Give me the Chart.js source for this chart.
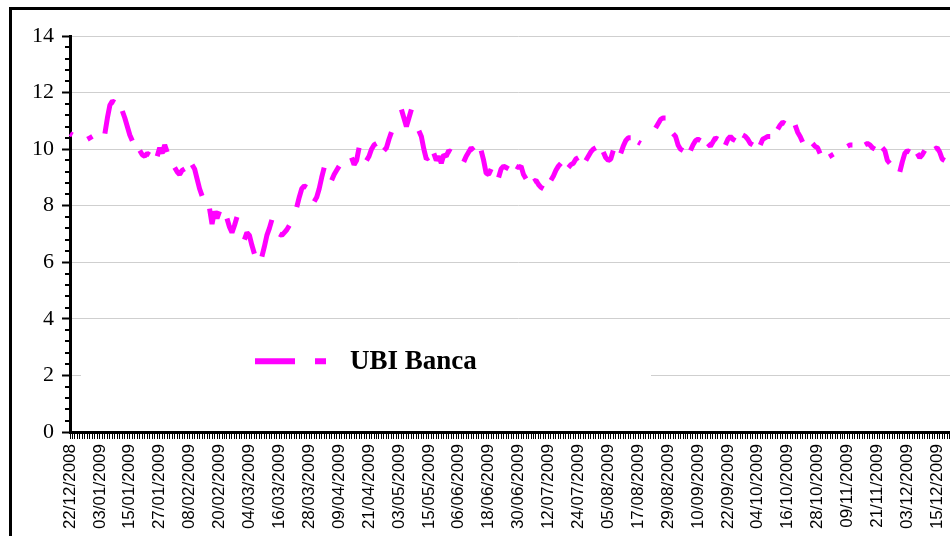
<!DOCTYPE html>
<html>
<head>
<meta charset="utf-8">
<script src="https://cdn.jsdelivr.net/npm/chart.js@4.4.1/dist/chart.umd.min.js"></script>
<style>
    html, body { margin: 0; padding: 0; background: #fff; overflow: hidden; }
    #wrap { width: 990px; height: 536px; }
</style>
</head>
<body>
<div id="wrap"><canvas id="ubi-chart" width="990" height="536"></canvas></div>
<script>
// Daily closes, one row per 7 categories (null = market closed / no line drawn)
const ubiBanca = [
    10.55, 10.5, null, null, null, null, null,
    10.35, 10.4, 10.45, null, null, null, null,
    10.55, 11.1, 11.55, 11.7, 11.65, null, null,
    11.35, 11.1, 10.8, 10.5, 10.3, null, null,
    9.95, 9.8, 9.75, 9.85, 9.8, null, null,
    9.75, 10.05, 9.85, 10.15, 9.9, null, null,
    9.35, 9.2, 9.1, 9.25, 9.3, null, null,
    9.45, 9.3, 8.95, 8.6, 8.35, null, null,
    7.9, 7.35, 7.8, 7.55, 7.8, null, null,
    7.55, 7.25, 7.05, 7.3, 7.6, null, null,
    6.8, 7.05, 6.95, 6.6, 6.3, null, null,
    6.2, 6.55, 6.95, 7.2, 7.5, null, null,
    7.0, 6.95, 7.05, 7.15, 7.3, null, null,
    7.95, 8.3, 8.6, 8.7, 8.65, null, null,
    8.15, 8.3, 8.6, 9.0, 9.35, null, null,
    8.9, 9.1, 9.25, 9.4, null, null, null,
    null, 9.7, 9.45, 9.6, 10.05, null, null,
    9.6, 9.75, 10.0, 10.15, 10.2, null, null,
    9.95, 10.05, 10.35, 10.6, null, null, null,
    11.4, 11.1, 10.8, 11.1, 11.4, null, null,
    10.65, 10.45, 10.0, 9.65, 9.7, null, 9.85,
    9.6, 9.75, 9.5, 9.8, 9.75, 9.95, 9.9,
    null, null, null, null, 9.55, 9.75, 9.9,
    10.05, 9.95, null, null, 9.95, 9.6, 9.15,
    9.1, 9.3, null, null, 9.0, 9.3, 9.4,
    9.35, 9.3, null, null, 9.4, 9.35, 9.4,
    9.1, 8.95, null, null, 8.85, 8.9, 8.75,
    8.65, 8.6, null, null, 8.9, 9.05, 9.25,
    9.4, 9.5, null, null, 9.35, 9.45, 9.5,
    9.65, 9.7, null, null, 9.6, 9.75, 9.9,
    10.0, 10.05, null, null, 9.9, 9.7, 9.6,
    9.65, 9.95, null, null, 9.85, 10.1, 10.3,
    10.4, 10.4, null, null, 10.25, 10.2, null,
    null, null, null, null, 10.75, 10.9, 11.05,
    11.1, 11.1, null, null, 10.55, 10.45, 10.15,
    10.0, 9.95, null, null, 9.95, 10.15, 10.3,
    10.35, 10.3, null, null, 10.2, 10.1, 10.25,
    10.4, 10.35, null, null, 10.15, 10.35, 10.45,
    10.35, 10.3, null, null, 10.5, 10.45, 10.35,
    10.2, 10.15, null, null, 10.15, 10.35, 10.4,
    10.45, 10.45, null, null, 10.7, 10.85, 10.95,
    10.9, null, null, null, 10.85, 10.6, 10.45,
    10.25, null, null, null, 10.2, 10.1, 10.05,
    9.85, null, null, null, 9.85, 9.7, null,
    null, null, null, null, 10.1, 10.15, 10.15,
    null, null, null, null, 10.15, 10.2, 10.15,
    10.05, 10.0, null, null, 10.05, 9.95, 9.6,
    9.5, null, null, null, 9.2, 9.55, 9.85,
    9.95, 9.9, null, null, 9.85, 9.7, 9.8,
    9.95, null, null, null, 10.0, 10.05, 9.9,
    9.65, 9.6
];

// Category axis: one entry per day from 22/12/2008, the sheet skips 10 days after 15/05/2009
const firstDay = [2008, 12, 22];
const skipAfter = '15/05/2009';
const skipDays = 10;
const dayCount = 360;
const labelEvery = 12;

const yTicks = [0, 2, 4, 6, 8, 10, 12, 14];
const seriesName = 'UBI Banca';

const pad = n => String(n).padStart(2, '0');
const fmt = d => pad(d.getDate()) + '/' + pad(d.getMonth() + 1) + '/' + d.getFullYear();

const days = [];
const d = new Date(firstDay[0], firstDay[1] - 1, firstDay[2]);
for (let i = 0; i < dayCount; i++) {
    const s = fmt(d);
    days.push(s);
    if (s === skipAfter) d.setDate(d.getDate() + skipDays);
    d.setDate(d.getDate() + 1);
}

// white background + outer frame (only left/top edges are inside the picture)
const framePlugin = {
    id: 'frame',
    beforeDraw(chart) {
        const ctx = chart.ctx;
        ctx.save();
        ctx.fillStyle = '#fff';
        ctx.fillRect(0, 0, chart.width, chart.height);
        ctx.strokeStyle = '#000';
        ctx.lineWidth = 3;
        ctx.strokeRect(10.5, 8.5, 3000, 3000);
        ctx.restore();
    }
};

// legend box sitting inside the plot, lower left
const legendPlugin = {
    id: 'innerLegend',
    beforeDatasetsDraw(chart) {
        const ctx = chart.ctx;
        const area = chart.chartArea;
        const ds = chart.data.datasets[0];
        const yMid = chart.scales.y.getPixelForValue(2.5);
        ctx.save();
        ctx.fillStyle = '#fff';
        ctx.fillRect(area.left + 11, yMid - 26, 570, 56);
        ctx.strokeStyle = ds.borderColor;
        ctx.lineWidth = 6;
        ctx.setLineDash([40, 20, 11, 200]);
        ctx.beginPath();
        ctx.moveTo(area.left + 185, yMid);
        ctx.lineTo(area.left + 256, yMid);
        ctx.stroke();
        ctx.setLineDash([]);
        ctx.fillStyle = '#000';
        ctx.font = 'bold 27px "Liberation Serif", "Times New Roman", serif';
        ctx.textBaseline = 'middle';
        ctx.fillText(ds.label, area.left + 280, yMid + 1);
        ctx.restore();
    }
};

// minor ticks on the value axis
const minorTicks = {
    id: 'minorTicks',
    afterDraw(chart) {
        const y = chart.scales.y;
        const ctx = chart.ctx;
        ctx.save();
        ctx.strokeStyle = '#000';
        ctx.lineWidth = 2;
        for (let k = 0; k <= 35; k++) {
            if (k % 5 === 0) continue;
            const py = Math.round(y.getPixelForValue(k * 0.4));
            ctx.beginPath();
            ctx.moveTo(y.right - 5, py);
            ctx.lineTo(y.right + 1, py);
            ctx.stroke();
        }
        ctx.restore();
    }
};

const ctx = document.getElementById('ubi-chart').getContext('2d');
new Chart(ctx, {
    type: 'line',
    data: {
        labels: days,
        datasets: [{
            label: seriesName,
            data: ubiBanca,
            borderColor: '#ff00ff',
            backgroundColor: '#ff00ff',
            borderWidth: 5,
            borderCapStyle: 'butt',
            borderJoinStyle: 'bevel',
            pointRadius: 0,
            pointHoverRadius: 0,
            tension: 0,
            spanGaps: false
        }]
    },
    options: {
        responsive: false,
        animation: false,
        devicePixelRatio: 1,
        layout: { padding: { top: 36, left: 0, right: 0, bottom: 0 } },
        plugins: {
            legend: { display: false },
            tooltip: { enabled: false }
        },
        scales: {
            x: {
                type: 'category',
                offset: false,
                grid: {
                    display: true,
                    drawOnChartArea: false,
                    drawTicks: true,
                    tickLength: 7,
                    tickColor: '#000',
                    tickWidth: 1
                },
                border: { display: true, color: '#000', width: 3 },
                ticks: {
                    autoSkip: false,
                    maxRotation: 90,
                    minRotation: 90,
                    padding: 5,
                    color: '#000',
                    font: { family: '"Liberation Sans", Arial, sans-serif', size: 17 },
                    callback: function (value, index) {
                        return index % labelEvery === 0 ? this.getLabelForValue(value) : '';
                    }
                },
                afterFit: scale => { scale.height = 104; }
            },
            y: {
                min: yTicks[0],
                max: yTicks[yTicks.length - 1],
                afterBuildTicks: scale => { scale.ticks = yTicks.map(v => ({ value: v })); },
                grid: {
                    color: '#cfcfcf',
                    lineWidth: 1,
                    drawTicks: true,
                    tickLength: 8,
                    tickColor: '#000',
                    tickWidth: 2
                },
                border: { display: true, color: '#000', width: 3 },
                ticks: {
                    padding: 8,
                    color: '#000',
                    font: { family: '"Liberation Serif", "Times New Roman", serif', size: 22 }
                },
                afterFit: scale => { scale.width = 70; }
            }
        }
    },
    plugins: [framePlugin, legendPlugin, minorTicks]
});
</script>
</body>
</html>
